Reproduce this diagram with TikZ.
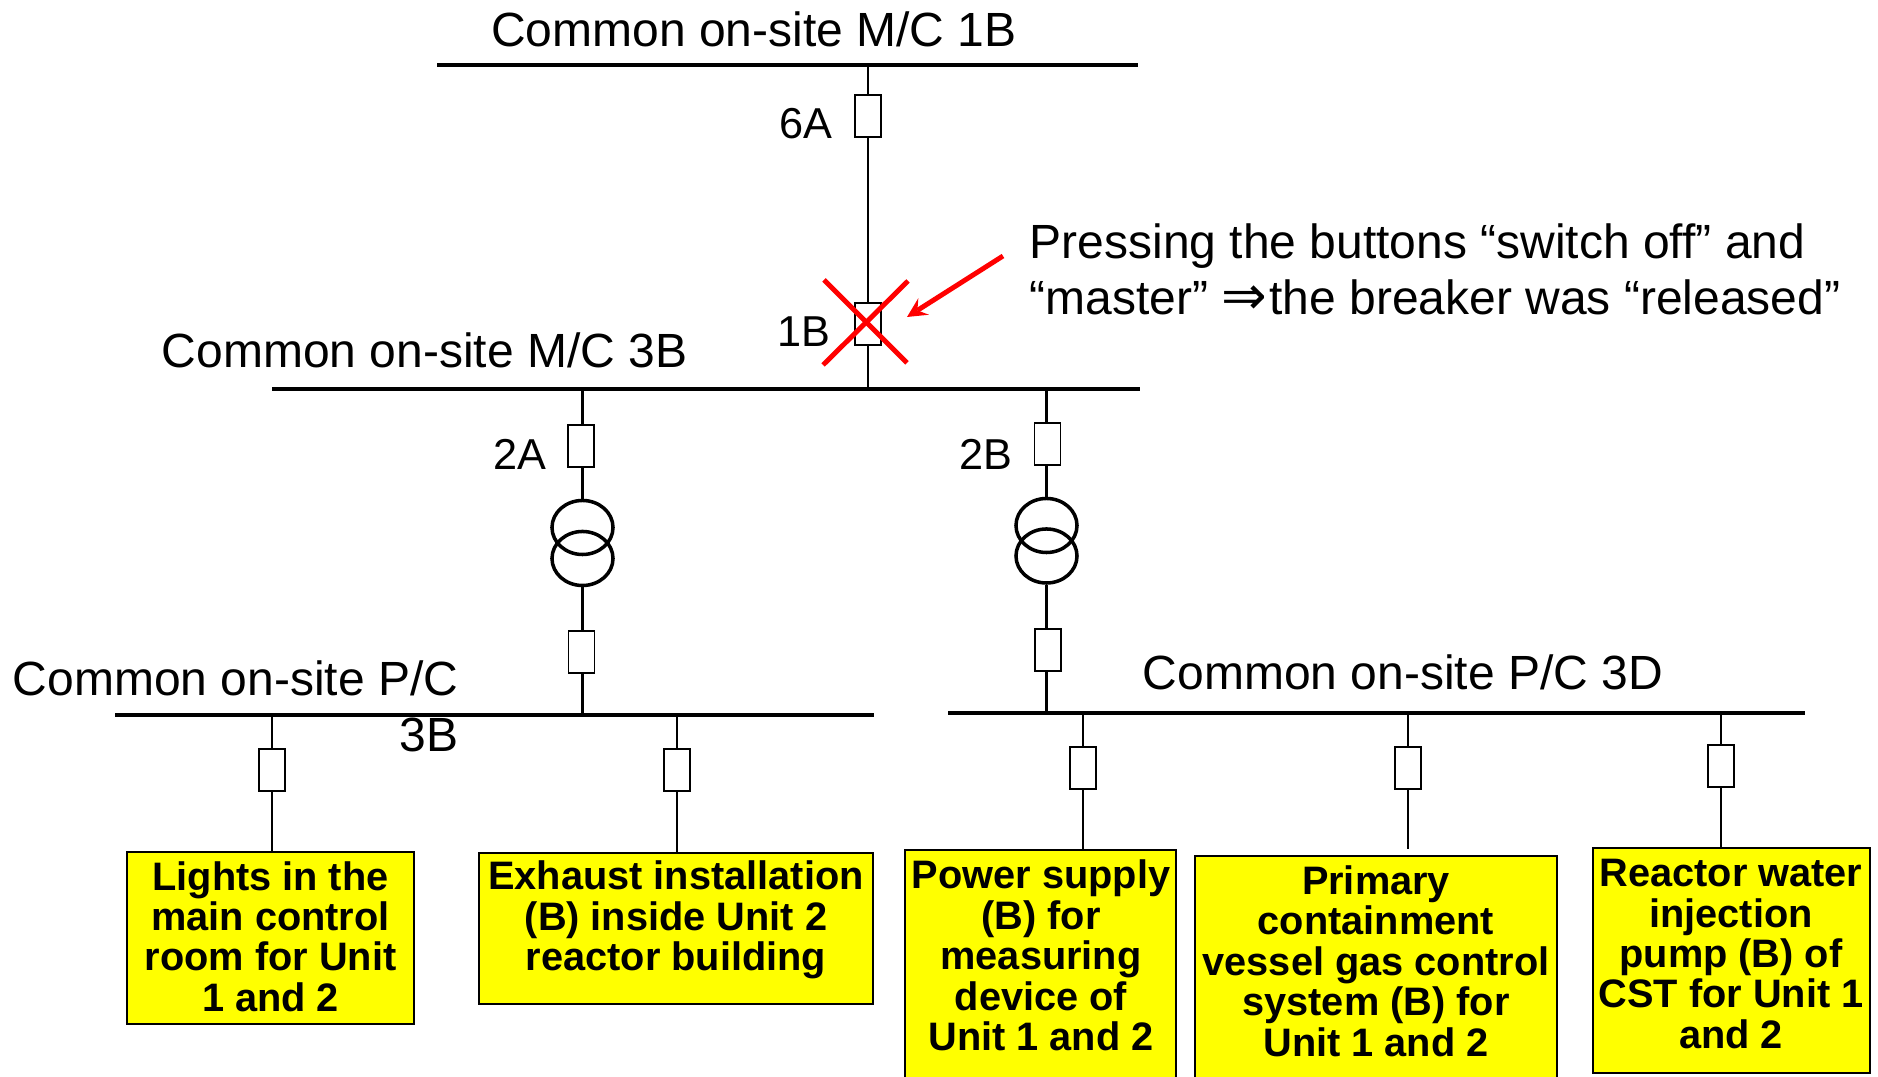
\documentclass[tikz,border=0pt]{standalone}
\usepackage{fontspec}
\setmainfont{Liberation Sans}
\newfontfamily\symfont{DejaVu Sans}
\usetikzlibrary{positioning, shapes.geometric}
\definecolor{loadyellow}{RGB}{255,255,0}
\tikzstyle{every node}=[font=\fontsize{13.65}{16}\selectfont]
\tikzstyle{bus} = [rectangle, fill=black, inner sep=0pt, minimum height=1.1pt]
\tikzstyle{breaker} = [rectangle, draw=black, line width=0.5pt, inner sep=0pt, minimum width=0.26cm, minimum height=0.42cm]
\tikzstyle{winding} = [ellipse, draw=black, line width=1pt, inner sep=0pt, minimum width=0.61cm, minimum height=0.54cm]
\tikzstyle{load} = [rectangle, draw=black, fill=loadyellow, line width=0.6pt, inner sep=0pt]
\tikzstyle{loadtext} = [align=center, inner sep=0pt, font=\fontsize{11.3}{11.5}\selectfont\bfseries]
\tikzstyle{tag} = [font=\fontsize{12.3}{16}\selectfont]
\tikzstyle{wire} = [line width=0.6pt]
\tikzstyle{crossmark} = [red, line width=1.4pt]
\tikzstyle{arrow} = [red, line width=1.4pt,->,>=stealth]

\begin{document}
\begin{tikzpicture}[x=0.01cm, y=-0.01cm]
		\useasboundingbox (0,0) rectangle (1878,1077);
		%bus bars
		\node (mc1B) [bus, minimum width=7.01cm] at (787.5,65) {};
		\node (mc3B) [bus, minimum width=8.68cm] at (706,389) {};
		\node (pc3B) [bus, minimum width=7.59cm] at (494.5,715) {};
		\node (pc3D) [bus, minimum width=8.57cm] at (1376.5,713) {};
		
		%breakers and transformers
		\node (brk6A) [breaker] at (868,116) {};
		\node (brk1B) [breaker] at (868,324) {};
		\node (brk2A) [breaker] at (581,446) {};
		\node (trA1) [winding] at (582.5,527.5) {};
		\node (trA2) [winding] at (582.5,558.5) {};
		\node (brk3A) [breaker] at (581.5,652) {};
		\node (brk2B) [breaker] at (1047.5,444) {};
		\node (trB1) [winding] at (1046.5,525.5) {};
		\node (trB2) [winding] at (1046.5,556) {};
		\node (brk3B) [breaker] at (1048,650) {};
		\node (brkF1) [breaker] at (272,770) {};
		\node (brkF2) [breaker] at (677,770) {};
		\node (brkF3) [breaker] at (1083,768) {};
		\node (brkF4) [breaker] at (1408,768) {};
		\node (brkF5) [breaker] at (1721,766) {};
		
		%loads
		\node (load1) [load, minimum width=2.87cm, minimum height=1.72cm] at (270.5,938) {};
		\node (load2) [load, minimum width=3.94cm, minimum height=1.51cm] at (676,928.5) {};
		\node (load3) [load, minimum width=2.71cm, minimum height=2.40cm] at (1040.5,970) {};
		\node (load4) [load, minimum width=3.62cm, minimum height=2.34cm] at (1376,973) {};
		\node (load5) [load, minimum width=2.77cm, minimum height=2.25cm] at (1731.5,960.5) {};
		\node (text1) [loadtext] at (270.5,936.5) {Lights in the\\main control\\room for Unit\\1 and 2};
		\node (text2) [loadtext] at (676,920) {Exhaust installation\\(B) inside Unit 2\\reactor building};
		\node (text3) [loadtext] at (1041,955.5) {Power supply\\(B) for\\measuring\\device of\\Unit 1 and 2};
		\node (text4) [loadtext] at (1376,961) {Primary\\containment\\vessel gas control\\system (B) for\\Unit 1 and 2};
		\node (text5) [loadtext] at (1731,954) {Reactor water\\injection\\pump (B) of\\CST for Unit 1\\and 2};
		
		%labels
		\node (name1B) at (754,29) {Common on-site M/C 1B};
		\node (name3B) at (424.5,350) {Common on-site M/C 3B};
		\node (namePB) [align=right, anchor=east, inner sep=0pt] at (459,706) {Common on-site P/C\\3B};
		\node (namePD) at (1403,672) {Common on-site P/C 3D};
		\node (lab6A) [tag] at (806,124) {6A};
		\node (lab1B) [tag] at (804,332) {1B};
		\node (lab2A) [tag] at (520,454) {2A};
		\node (lab2B) [tag] at (986,454) {2B};
		\node (note) [align=left, anchor=west, inner sep=0pt] at (1029,269.5) {Pressing the buttons “switch off” and\\“master” {\symfont\fontsize{15.5}{16}\selectfont ⇒}\kern0.6pt the breaker was “released”};
		
		%connect them
		\draw [wire](brk6A) -- (brk6A |- mc1B);
		\draw [wire](brk6A) -- (brk1B);
		\draw [wire](brk1B) -- (brk1B |- mc3B);
		\draw [wire](trA1 |- brk2A.north) -- (trA1 |- mc3B);
		\draw [wire](trA1 |- brk2A.south) -- (trA1);
		\draw [wire](trA2) -- (trA2 |- brk3A.north);
		\draw [wire](trA2 |- brk3A.south) -- (trA2 |- pc3B);
		\draw [wire](trB1 |- brk2B.north) -- (trB1 |- mc3B);
		\draw [wire](trB1 |- brk2B.south) -- (trB1);
		\draw [wire](trB2) -- (trB2 |- brk3B.north);
		\draw [wire](trB2 |- brk3B.south) -- (trB2 |- pc3D);
		\draw [wire](brkF1) -- (brkF1 |- pc3B);
		\draw [wire](brkF1) -- (brkF1 |- load1.north);
		\draw [wire](brkF2) -- (brkF2 |- pc3B);
		\draw [wire](brkF2) -- (brkF2 |- load2.north);
		\draw [wire](brkF3) -- (brkF3 |- pc3D);
		\draw [wire](brkF3) -- (brkF3 |- load3.north);
		\draw [wire](brkF4) -- (brkF4 |- pc3D);
		\coordinate (endF4) at (1408,849);
		\draw [wire](brkF4) -- (endF4);
		\draw [wire](brkF5) -- (brkF5 |- pc3D);
		\draw [wire](brkF5) -- (brkF5 |- load5.north);
		
		%red cross and arrow
		\coordinate (crossA) at (824,280);
		\coordinate (crossB) at (907,363);
		\coordinate (crossC) at (908,281);
		\coordinate (crossD) at (823,365);
		\coordinate (arrowA) at (1003,256);
		\coordinate (arrowB) at (907,317);
		\draw [crossmark](crossA) -- (crossB);
		\draw [crossmark](crossC) -- (crossD);
		\draw [arrow](arrowA) -- (arrowB);
	\end{tikzpicture}
\end{document}
